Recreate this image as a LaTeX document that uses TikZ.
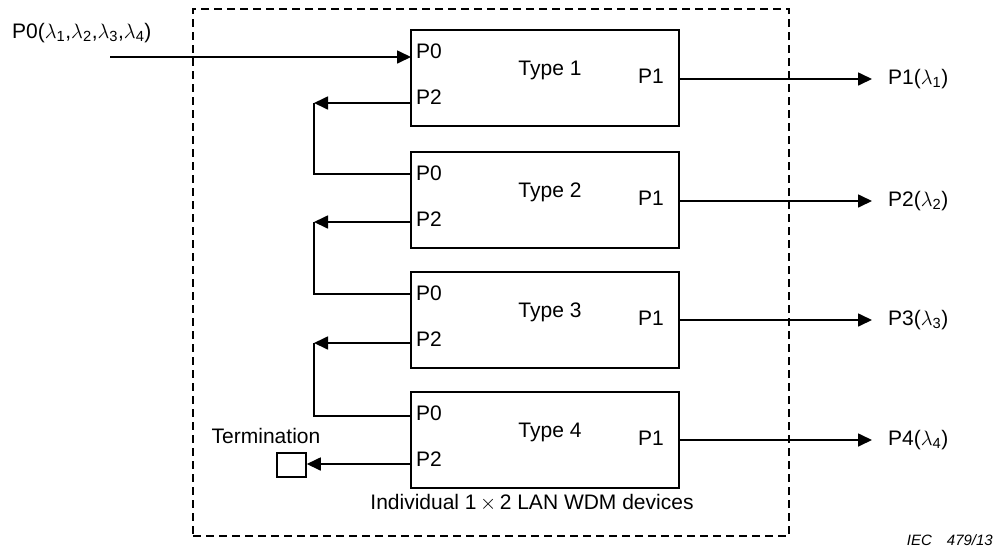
\documentclass[tikz,border=0pt]{standalone}
\usepackage{fontspec}
\setmainfont{Liberation Sans}
\usepackage{amsmath}
\usetikzlibrary{arrows.meta}
\newcommand{\wl}[1]{$\lambda_{\text{#1}}$}
\begin{document}
\begin{tikzpicture}[x=1pt,y=-1pt,
  font=\fontsize{21}{24}\selectfont,
  dev/.style={draw,line width=1.5pt,minimum width=268pt,minimum height=96pt,inner sep=0pt},
  frame/.style={draw,line width=1.5pt,dash pattern=on 8pt off 5pt,minimum width=596pt,minimum height=527pt,inner sep=0pt},
  term/.style={draw,line width=1.5pt,minimum width=29pt,minimum height=24pt,inner sep=0pt},
  lbl/.style={inner sep=0pt,anchor=west},
  wire/.style={line width=1.7pt},
  arr/.style={wire,-{Triangle[length=14pt,width=13pt]}},
]
\useasboundingbox (0,0) rectangle (997,555);
% dashed frame
\node[frame] (frame) at (491,272.5) {};
% devices
\node[dev] (b1) at (545,78) {};
\node[dev] (b2) at (545,200) {};
\node[dev] (b3) at (545,320) {};
\node[dev] (b4) at (545,440) {};
% device texts
\foreach \n/\t in {1/30,2/152,3/272,4/392}{
  \node[lbl] (p0l\n) at (416,\t+21) {P0};
  \node[lbl] (p2l\n) at (416,\t+67) {P2};
  \node[lbl] (p1l\n) at (638,\t+46) {P1};
  \node[inner sep=0pt] (ty\n) at (550,\t+40) {Type \n};
}
% port coordinates
\coordinate (in0) at (110,57);
\coordinate (b1p0) at (411,57);
\coordinate (b1p2) at (411,103);
\coordinate (b2p0) at (411,174);
\coordinate (b2p2) at (411,222);
\coordinate (b3p0) at (411,294);
\coordinate (b3p2) at (411,343);
\coordinate (b4p0) at (411,416);
\coordinate (b4p2) at (411,464);
\coordinate (c1) at (314,103);
\coordinate (c2) at (314,222);
\coordinate (c3) at (314,343);
% input
\node[lbl] (inl) at (12,33) {P0(\wl1,\wl2,\wl3,\wl4)};
\draw[arr] (in0) -- (b1p0);
% feedback chain
\draw[arr] (b1p2) -- (c1);
\draw[wire] (c1) |- (b2p0);
\draw[arr] (b2p2) -- (c2);
\draw[wire] (c2) |- (b3p0);
\draw[arr] (b3p2) -- (c3);
\draw[wire] (c3) |- (b4p0);
% termination
\node[term] (tb) at (291.5,465) {};
\node[inner sep=0pt] (tl) at (266,436) {Termination};
\draw[arr] (b4p2) -- (tb.east |- b4p2);
% outputs
\node[lbl] (o1) at (888,79) {P1(\wl1)};
\node[lbl] (o2) at (888,201) {P2(\wl2)};
\node[lbl] (o3) at (888,320) {P3(\wl3)};
\node[lbl] (o4) at (888,440) {P4(\wl4)};
\draw[arr,shorten >=16pt] (b1.east |- o1.west) -- (o1.west);
\draw[arr,shorten >=16pt] (b2.east |- o2.west) -- (o2.west);
\draw[arr,shorten >=16pt] (b3.east |- o3.west) -- (o3.west);
\draw[arr,shorten >=16pt] (b4.east |- o4.west) -- (o4.west);
% captions
\node[inner sep=0pt] (cap) at (532,503) {Individual 1\,$\times$\,2 LAN WDM devices};
\node[inner sep=0pt,anchor=east,font=\fontsize{15}{18}\selectfont\itshape] (iec) at (993,540) {IEC\hspace{15pt}479/13};
\end{tikzpicture}
\end{document}
